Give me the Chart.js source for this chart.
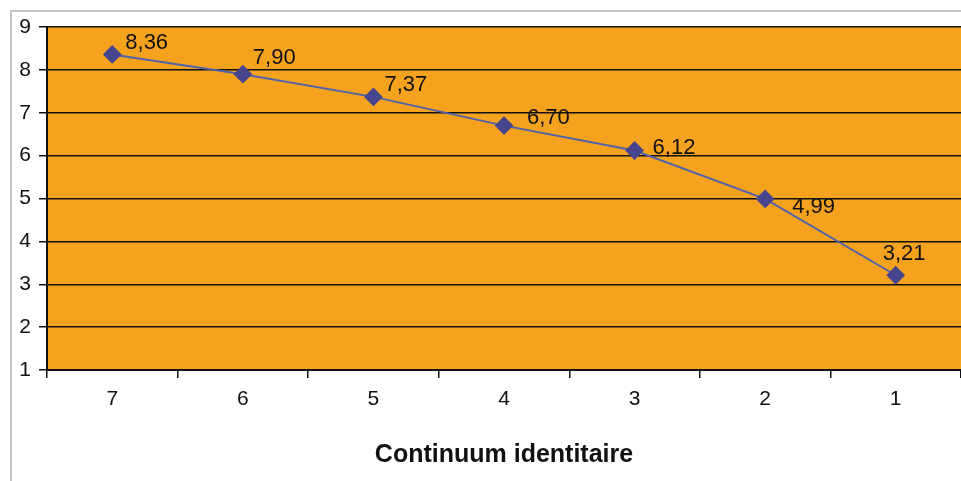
<!DOCTYPE html>
<html>
<head>
<meta charset="utf-8">
<script src="https://cdn.jsdelivr.net/npm/chart.js@4/dist/chart.umd.min.js"></script>
<style>
  html, body { margin: 0; padding: 0; background: #fff; }
  #wrap { width: 961px; height: 481px; position: relative; overflow: hidden; }
</style>
</head>
<body>
<div id="wrap"><canvas id="chart" width="971" height="481"></canvas></div>
<script>
const categories = ["7", "6", "5", "4", "3", "2", "1"];
const scores = [8.36, 7.90, 7.37, 6.70, 6.12, 4.99, 3.21];
const axisTitle = "Continuum identitaire";

// where each value label sits relative to its marker
const labelOffsets = [
  [13, -12], [10, -16], [11, -12], [23, -8], [18, -3], [27, 8], [-13, -21]
];

const frameAndBg = {
  id: "frameAndBg",
  beforeDraw(chart) {
    const c = chart.ctx, a = chart.chartArea;
    c.save();
    c.strokeStyle = "#c4c4c4";
    c.lineWidth = 2;
    c.beginPath();
    c.moveTo(11, 481);
    c.lineTo(11, 11);
    c.lineTo(971, 11);
    c.stroke();
    c.fillStyle = "#f5a31f";
    c.fillRect(a.left, a.top, a.right - a.left, a.bottom - a.top);
    c.restore();
  }
};

const valueLabels = {
  id: "valueLabels",
  afterDatasetsDraw(chart) {
    const c = chart.ctx;
    const pts = chart.getDatasetMeta(0).data;
    c.save();
    c.font = "22px 'Liberation Sans', Arial, sans-serif";
    c.fillStyle = "#111";
    c.textAlign = "left";
    c.textBaseline = "middle";
    pts.forEach((p, i) => {
      const o = labelOffsets[i];
      c.fillText(scores[i].toFixed(2).replace(".", ","), p.x + o[0], p.y + o[1]);
    });
    c.restore();
  }
};

const tickFont = { family: "'Liberation Sans', Arial, sans-serif", size: 21 };

new Chart(document.getElementById("chart"), {
  type: "line",
  data: {
    labels: categories,
    datasets: [{
      data: scores,
      borderColor: "#5262aa",
      borderWidth: 2,
      pointStyle: "rectRot",
      pointRadius: 8,
      pointBackgroundColor: "#47458e",
      pointBorderColor: "#47458e",
      tension: 0
    }]
  },
  options: {
    responsive: false,
    animation: false,
    layout: { padding: { left: 0, top: 27, right: 0, bottom: 0 } },
    plugins: { legend: { display: false }, tooltip: { enabled: false } },
    scales: {
      y: {
        min: 1, max: 9,
        afterFit(s) { s.width = 47; },
        ticks: { stepSize: 1, padding: 8, color: "#111", font: tickFont },
        grid: { color: "#111", lineWidth: 1.5, tickLength: 8 },
        border: { color: "#111", width: 2 }
      },
      x: {
        offset: true,
        afterFit(s) { s.height = 111; },
        ticks: { padding: 9, color: "#111", font: tickFont },
        grid: { offset: true, drawOnChartArea: false, color: "#111", lineWidth: 1.5, tickLength: 8 },
        border: { color: "#111", width: 2 },
        title: { display: true, text: axisTitle, color: "#111", padding: { top: 2, bottom: 11 },
          font: { family: "'Liberation Sans', Arial, sans-serif", size: 25, weight: "bold" } }
      }
    }
  },
  plugins: [frameAndBg, valueLabels]
});
</script>
</body>
</html>
